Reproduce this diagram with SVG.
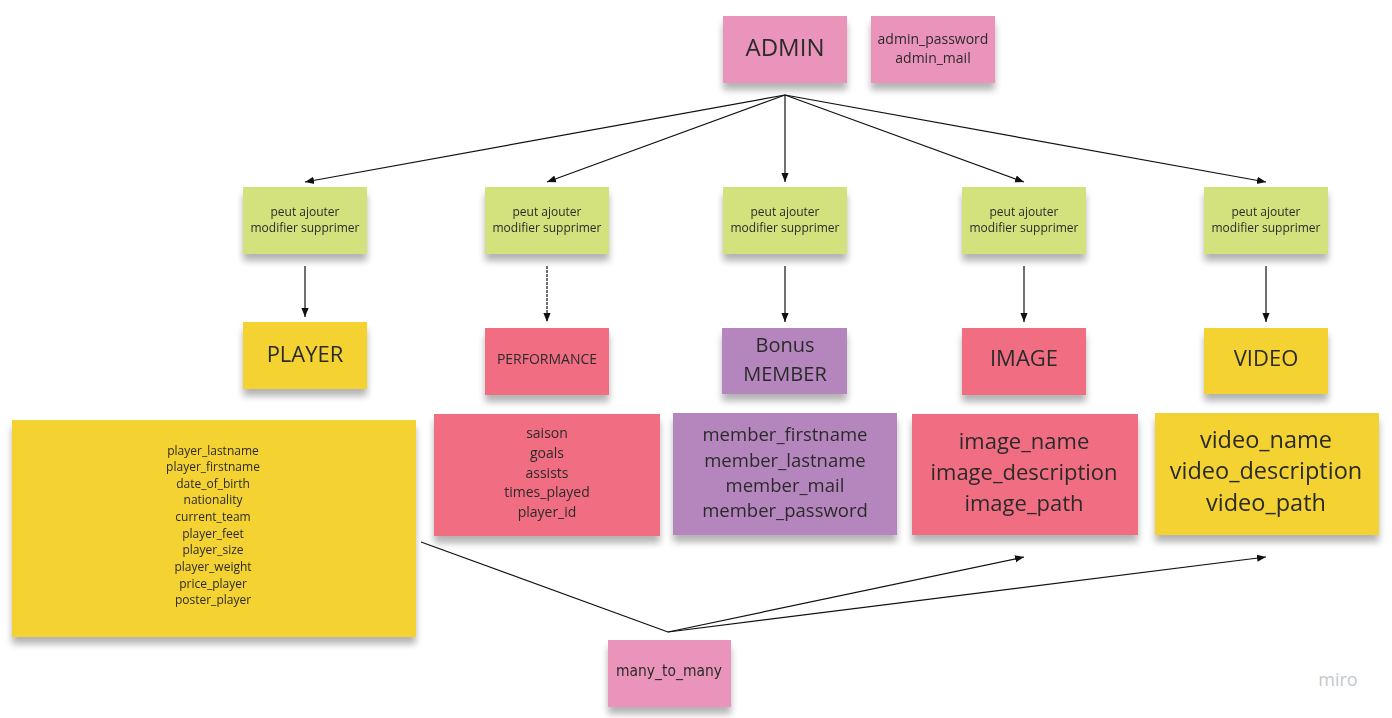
<svg xmlns="http://www.w3.org/2000/svg" width="1392" height="718" viewBox="0 0 1392 718">
<style>
text{font-family:"Open Sans","Noto Sans","DejaVu Sans",sans-serif;fill:#2b2b2b;text-anchor:middle;dominant-baseline:central}
.pink{fill:#ea94bc}
.green{fill:#d4e27d}
.yellow{fill:#f4d231}
.red{fill:#f16e82}
.purple{fill:#b586be}
.edge{stroke:#111;stroke-width:1.2;fill:none}
.s12{font-size:12px}
.s14{font-size:14px}
.s18{font-size:18.5px}
.s20{font-size:20px}
.s22{font-size:22px}
.s23{font-size:23.5px}
.s24{font-size:24px}
</style>
<defs>
<filter id="sh" x="-10%" y="-10%" width="120%" height="140%">
<feGaussianBlur in="SourceAlpha" stdDeviation="3.5"/>
<feOffset dx="0" dy="7" result="b"/>
<feComponentTransfer><feFuncA type="linear" slope="0.3"/></feComponentTransfer>
<feMerge><feMergeNode/><feMergeNode in="SourceGraphic"/></feMerge>
</filter>
<marker id="arr" viewBox="0 0 10 10" refX="10" refY="5" markerWidth="9" markerHeight="9" markerUnits="userSpaceOnUse" orient="auto">
<path d="M0,1 L10,5 L0,9 z" fill="#111"/>
</marker>
</defs>
<rect width="1392" height="718" fill="#ffffff"/>

<g id="connectors">
<line class="edge" x1="785" y1="95" x2="305" y2="182" marker-end="url(#arr)"/>
<line class="edge" x1="785" y1="95" x2="547" y2="182" marker-end="url(#arr)"/>
<line class="edge" x1="785" y1="95" x2="785" y2="182" marker-end="url(#arr)"/>
<line class="edge" x1="785" y1="95" x2="1024" y2="182" marker-end="url(#arr)"/>
<line class="edge" x1="785" y1="95" x2="1266" y2="182" marker-end="url(#arr)"/>
<line class="edge" x1="305" y1="266" x2="305" y2="317" marker-end="url(#arr)"/>
<line class="edge" x1="547" y1="266" x2="547" y2="322" marker-end="url(#arr)" stroke-dasharray="3,1"/>
<line class="edge" x1="785" y1="266" x2="785" y2="322" marker-end="url(#arr)"/>
<line class="edge" x1="1024" y1="266" x2="1024" y2="322" marker-end="url(#arr)"/>
<line class="edge" x1="1266" y1="266" x2="1266" y2="322" marker-end="url(#arr)"/>
<polyline class="edge" points="421,542 668,632"/>
<line class="edge" x1="668" y1="632" x2="1024" y2="557" marker-end="url(#arr)"/>
<line class="edge" x1="668" y1="632" x2="1266" y2="557" marker-end="url(#arr)"/>
</g>

<g id="admin" filter="url(#sh)">
<rect class="pink" x="723" y="16" width="124" height="67"/>
<text class="s24" x="785" y="46">ADMIN</text>
</g>
<g id="admin_attrs" filter="url(#sh)">
<rect class="pink" x="871" y="16" width="124" height="67"/>
<text class="s14" x="933" y="38">admin_password</text>
<text class="s14" x="933" y="57">admin_mail</text>
</g>

<g id="action_player" filter="url(#sh)">
<rect class="green" x="243" y="187" width="124" height="67"/>
<text class="s12" x="305" y="211">peut ajouter</text>
<text class="s12" x="305" y="227">modifier supprimer</text>
</g>
<g id="action_performance" filter="url(#sh)">
<rect class="green" x="485" y="187" width="124" height="67"/>
<text class="s12" x="547" y="211">peut ajouter</text>
<text class="s12" x="547" y="227">modifier supprimer</text>
</g>
<g id="action_member" filter="url(#sh)">
<rect class="green" x="723" y="187" width="124" height="67"/>
<text class="s12" x="785" y="211">peut ajouter</text>
<text class="s12" x="785" y="227">modifier supprimer</text>
</g>
<g id="action_image" filter="url(#sh)">
<rect class="green" x="962" y="187" width="124" height="67"/>
<text class="s12" x="1024" y="211">peut ajouter</text>
<text class="s12" x="1024" y="227">modifier supprimer</text>
</g>
<g id="action_video" filter="url(#sh)">
<rect class="green" x="1204" y="187" width="124" height="67"/>
<text class="s12" x="1266" y="211">peut ajouter</text>
<text class="s12" x="1266" y="227">modifier supprimer</text>
</g>

<g id="player" filter="url(#sh)">
<rect class="yellow" x="243" y="322" width="124" height="67"/>
<text class="s22" x="305" y="353">PLAYER</text>
</g>
<g id="performance" filter="url(#sh)">
<rect class="red" x="485" y="328" width="124" height="67"/>
<text class="s14" x="547" y="358">PERFORMANCE</text>
</g>
<g id="member" filter="url(#sh)">
<rect class="purple" x="722" y="328" width="125" height="66"/>
<text class="s20" x="785" y="344">Bonus</text>
<text class="s20" x="785" y="373">MEMBER</text>
</g>
<g id="image" filter="url(#sh)">
<rect class="red" x="962" y="328" width="124" height="67"/>
<text class="s22" x="1024" y="357">IMAGE</text>
</g>
<g id="video" filter="url(#sh)">
<rect class="yellow" x="1204" y="328" width="124" height="66"/>
<text class="s22" x="1266" y="357">VIDEO</text>
</g>

<g id="player_attrs" filter="url(#sh)">
<rect class="yellow" x="12" y="420" width="404" height="217"/>
<text class="s12" x="213" y="450">player_lastname</text>
<text class="s12" x="213" y="466">player_firstname</text>
<text class="s12" x="213" y="483">date_of_birth</text>
<text class="s12" x="213" y="499">nationality</text>
<text class="s12" x="213" y="516">current_team</text>
<text class="s12" x="213" y="533">player_feet</text>
<text class="s12" x="213" y="549">player_size</text>
<text class="s12" x="213" y="566">player_weight</text>
<text class="s12" x="213" y="583">price_player</text>
<text class="s12" x="213" y="599">poster_player</text>
</g>
<g id="performance_attrs" filter="url(#sh)">
<rect class="red" x="434" y="414" width="226" height="122"/>
<text class="s14" x="547" y="432">saison</text>
<text class="s14" x="547" y="452">goals</text>
<text class="s14" x="547" y="472">assists</text>
<text class="s14" x="547" y="491">times_played</text>
<text class="s14" x="547" y="511">player_id</text>
</g>
<g id="member_attrs" filter="url(#sh)">
<rect class="purple" x="673" y="413" width="224" height="122"/>
<text class="s18" x="785" y="433">member_firstname</text>
<text class="s18" x="785" y="459">member_lastname</text>
<text class="s18" x="785" y="484">member_mail</text>
<text class="s18" x="785" y="509">member_password</text>
</g>
<g id="image_attrs" filter="url(#sh)">
<rect class="red" x="912" y="414" width="226" height="121"/>
<text class="s22" x="1024" y="440">image_name</text>
<text class="s22" x="1024" y="471">image_description</text>
<text class="s22" x="1024" y="502">image_path</text>
</g>
<g id="video_attrs" filter="url(#sh)">
<rect class="yellow" x="1155" y="413" width="224" height="122"/>
<text class="s23" x="1266" y="439">video_name</text>
<text class="s23" x="1266" y="470">video_description</text>
<text class="s23" x="1266" y="502">video_path</text>
</g>

<g id="many_to_many" filter="url(#sh)">
<rect class="pink" x="608" y="640" width="123" height="67"/>
<text x="669" y="671" style="font-size:15px;font-family:'DejaVu Sans Condensed','Open Sans',sans-serif" textLength="106" lengthAdjust="spacingAndGlyphs">many_to_many</text>
</g>

<text x="1338" y="679" style="font-size:18px;fill:#c4c8cc;font-family:'Open Sans',sans-serif">miro</text>
</svg>
